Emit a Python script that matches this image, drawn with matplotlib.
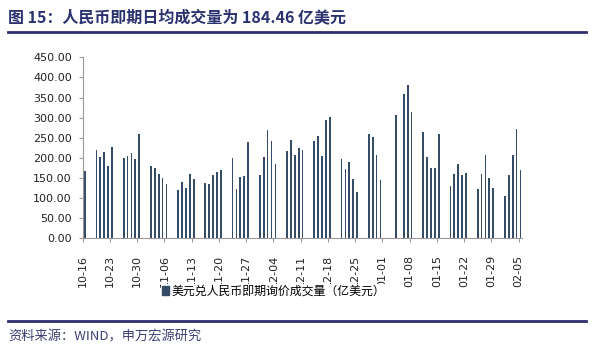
import numpy as np
import pandas as pd
import matplotlib
matplotlib.use("Agg")
import matplotlib.pyplot as plt
import matplotlib.dates as mdates
from matplotlib.lines import Line2D
from matplotlib.patches import Patch

plt.rcParams['font.family'] = ['DejaVu Sans', 'Noto Sans CJK SC']

# trading days 2015-10-16 .. 2016-02-05 (01-01 and 01-05 have no data)
missing_days = ["2016-01-01", "2016-01-05"]
dates = pd.bdate_range("2015-10-16", "2016-02-05")
dates = dates[~dates.isin(pd.to_datetime(missing_days))]

volume = [168,
          219, 201, 214, 181, 228,
          199, 205, 213, 196, 259,
          181, 175, 161, 150, 134,
          121, 141, 126, 161, 147,
          138, 135, 158, 164, 170,
          199, 123, 153, 155, 239,
          158, 202, 269, 243, 184,
          216, 245, 207, 225, 219,
          243, 254, 205, 295, 302,
          196, 173, 190, 147, 115,
          260, 251, 207, 144,
          306,
          360, 381, 315,
          265, 202, 175, 175, 259,
          129, 161, 184, 158, 163,
          123, 161, 207, 150, 126,
          106, 158, 207, 271, 170]

tick_labels = ["10-16", "10-23", "10-30", "11-06", "11-13", "11-20", "11-27",
               "12-04", "12-11", "12-18", "12-25", "01-01", "01-08", "01-15",
               "01-22", "01-29", "02-05"]
tick_dates = pd.to_datetime(["2015-" + t if t[0] == "1" else "2016-" + t for t in tick_labels])

title = "图 15：人民币即期日均成交量为 184.46 亿美元"
series_name = "美元兑人民币即期询价成交量（亿美元）"
source = "资料来源：WIND，申万宏源研究"

fig = plt.figure(figsize=(6, 3.52), dpi=100)
ax = fig.add_axes([0.138, 0.323, 0.7327, 0.514])

x = mdates.date2num(dates) + 0.5
bar_color = '#354C66'
ax.bar(x, volume, width=0.45, color=bar_color)

ax.set_xlim(mdates.date2num(pd.Timestamp("2015-10-16")),
            mdates.date2num(pd.Timestamp("2016-02-06")))
ax.set_ylim(0, 450)
ax.set_yticks(np.arange(0, 451, 50))
ax.set_yticklabels(["%.2f" % v for v in np.arange(0, 451, 50)])
ax.set_xticks(mdates.date2num(tick_dates))
ax.set_xticklabels(tick_labels, rotation=90)

for s in ['top', 'right']:
    ax.spines[s].set_visible(False)
for s in ['left', 'bottom']:
    ax.spines[s].set_color('#999999')
    ax.spines[s].set_linewidth(0.8)
ax.tick_params(axis='both', colors='#999999', length=3, width=0.8, labelsize=8,
               labelcolor='#222222')
ax.tick_params(axis='y', pad=5)
ax.tick_params(axis='x', pad=9)

# title + rules
fig.text(8 / 600, 1 - 17 / 352, title, fontsize=11.5, fontweight='bold',
         color='#2B3270', va='center', ha='left',
         family=['Noto Sans CJK SC', 'DejaVu Sans'])
fig.add_artist(Line2D([8 / 600, 586 / 600], [1 - 32 / 352] * 2, color='#2E2E6E', lw=2))
fig.add_artist(Line2D([8 / 600, 586 / 600], [1 - 321 / 352] * 2, color='#2E2E6E', lw=2))
fig.text(8 / 600, 1 - 337 / 352, source, fontsize=9.5, color='#3D3F73',
         va='center', ha='left', family=['Noto Sans CJK SC', 'DejaVu Sans'])

leg = fig.legend(handles=[Patch(color=bar_color, label=series_name)],
                 loc='center left', bbox_to_anchor=(161 / 600, 1 - 291 / 352),
                 frameon=True, fancybox=False, edgecolor='none', facecolor='white',
                 framealpha=1, handlelength=0.6, handleheight=0.7, handletextpad=0.2,
                 borderpad=0.05, borderaxespad=0,
                 prop={'family': ['Noto Sans CJK SC', 'DejaVu Sans'], 'size': 8.6})

fig.savefig("out.png", dpi=100)
